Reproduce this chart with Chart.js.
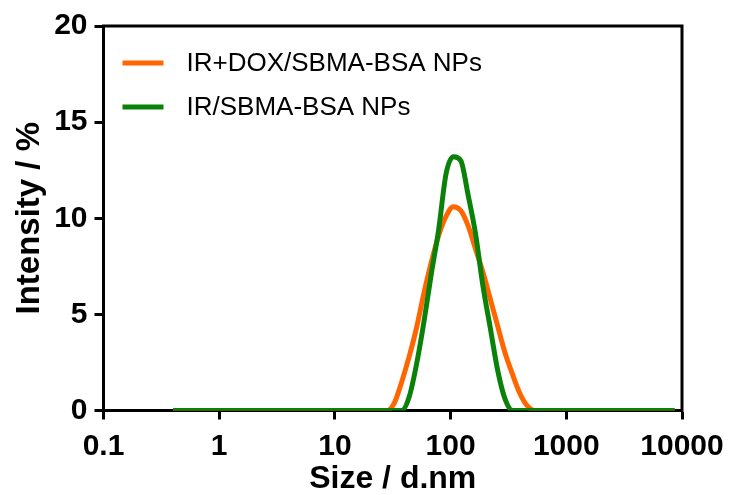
<!DOCTYPE html>
<html>
<head>
<meta charset="utf-8">
<script src="https://cdn.jsdelivr.net/npm/chart.js@4/dist/chart.umd.min.js"></script>
<style>
  body { margin: 0; background: #fff; }
  #wrap { width: 729px; height: 495px; }
</style>
</head>
<body>
<div id="wrap"><canvas id="grafico" width="729" height="495"></canvas></div>
<script>
// Size bins (d.nm) and intensity (%)
const tamanhos = [
  0.4, 0.4632, 0.5365, 0.6213, 0.7195, 0.8332, 0.9649, 1.117, 1.294, 1.499,
  1.736, 2.01, 2.328, 2.696, 3.122, 3.615, 4.187, 4.849, 5.615, 6.503,
  7.531, 8.721, 10.1, 11.7, 13.54, 15.69, 18.17, 21.04, 24.36, 28.21,
  32.67, 37.84, 43.82, 50.75, 58.77, 68.06, 78.82, 91.28, 105.7, 122.4,
  141.8, 164.2, 190.1, 220.2, 255, 295.3, 342, 396.1, 458.7, 531.2,
  615.1, 712.4, 825, 955.4, 1106, 1281, 1484, 1718, 1990, 2305,
  2669, 3091, 3580, 4145, 4801, 5560, 6439, 7456, 8635
];

const irDox = [
  0, 0, 0, 0, 0, 0, 0, 0, 0, 0,
  0, 0, 0, 0, 0, 0, 0, 0, 0, 0,
  0, 0, 0, 0, 0, 0, 0, 0, 0, 0,
  0.4, 1.5, 2.8, 4.3, 6.1, 7.7, 9.1, 10.1, 10.6, 10.4,
  9.6, 8.4, 7.2, 5.8, 4.4, 3.0, 1.9, 0.9, 0.25, 0,
  0, 0, 0, 0, 0, 0, 0, 0, 0, 0,
  0, 0, 0, 0, 0, 0, 0, 0, 0
];

const irSo = [
  0, 0, 0, 0, 0, 0, 0, 0, 0, 0,
  0, 0, 0, 0, 0, 0, 0, 0, 0, 0,
  0, 0, 0, 0, 0, 0, 0, 0, 0, 0,
  0, 0, 0.7, 2.4, 4.6, 7.1, 9.4, 12.3, 13.2, 13.0,
  11.2, 9.2, 6.5, 4.3, 2.1, 0.6, 0, 0, 0, 0,
  0, 0, 0, 0, 0, 0, 0, 0, 0, 0,
  0, 0, 0, 0, 0, 0, 0, 0, 0
];

const nomes = ["IR+DOX/SBMA-BSA NPs", "IR/SBMA-BSA NPs"];
const cores = ["#ff6600", "#0a820a"];

const xTicks = [0.1, 1, 10, 100, 1000, 10000];
const xTickLabels = ["0.1", "1", "10", "100", "1000", "10000"];
const yTicks = [0, 5, 10, 15, 20];

function pontos(valores) {
  return tamanhos.map((t, i) => ({ x: t, y: valores[i] }));
}

// legend inside the plot, top left
const legendaPlugin = {
  id: "legenda",
  afterDraw(chart) {
    const ctx = chart.ctx;
    const a = chart.chartArea;
    ctx.save();
    ctx.font = "26px 'Liberation Sans', Arial, sans-serif";
    ctx.textBaseline = "middle";
    nomes.forEach((nome, i) => {
      const y = a.top + 37 + i * 44;
      ctx.strokeStyle = cores[i];
      ctx.lineWidth = 5;
      ctx.beginPath();
      ctx.moveTo(a.left + 19, y);
      ctx.lineTo(a.left + 60, y);
      ctx.stroke();
      ctx.fillStyle = "#000";
      ctx.fillText(nome, a.left + 83, y + 1);
    });
    ctx.restore();
  }
};

// top and right frame lines
const moldura = {
  id: "moldura",
  beforeDatasetsDraw(chart) {
    const ctx = chart.ctx;
    const a = chart.chartArea;
    ctx.save();
    ctx.strokeStyle = "#000";
    ctx.lineWidth = 3;
    ctx.beginPath();
    ctx.moveTo(a.left - 1.5, a.top);
    ctx.lineTo(a.right, a.top);
    ctx.lineTo(a.right, a.bottom + 1.5);
    ctx.stroke();
    ctx.restore();
  }
};

const familia = "'Liberation Sans', Arial, sans-serif";

new Chart(document.getElementById("grafico"), {
  type: "line",
  data: {
    datasets: [
      {
        label: nomes[0],
        data: pontos(irDox),
        borderColor: cores[0],
        borderWidth: 5,
        pointRadius: 0,
        cubicInterpolationMode: "monotone",
        order: 1
      },
      {
        label: nomes[1],
        data: pontos(irSo),
        borderColor: cores[1],
        borderWidth: 5,
        pointRadius: 0,
        cubicInterpolationMode: "monotone",
        order: 0
      }
    ]
  },
  options: {
    responsive: false,
    animation: false,
    events: [],
    layout: { padding: { top: 26, right: 47, left: 0, bottom: 0 } },
    plugins: {
      legend: { display: false },
      tooltip: { enabled: false }
    },
    scales: {
      x: {
        type: "logarithmic",
        min: 0.1,
        max: 10000,
        afterBuildTicks: scale => {
          scale.ticks = xTicks.map(v => ({ value: v }));
        },
        afterFit: scale => { scale.height = 84.5; },
        ticks: {
          color: "#000",
          font: { family: familia, size: 30, weight: "bold", lineHeight: 1.5 },
          padding: 5,
          maxRotation: 0,
          autoSkip: false,
          callback: (v, i) => xTickLabels[i]
        },
        grid: {
          drawOnChartArea: false,
          drawTicks: true,
          tickLength: 9,
          tickWidth: 3,
          tickColor: "#000"
        },
        border: { display: true, color: "#000", width: 3 },
        title: {
          display: true,
          text: "Size / d.nm",
          color: "#000",
          font: { family: familia, size: 32, weight: "bold", lineHeight: 1 },
          padding: { top: 0, bottom: 0 }
        }
      },
      y: {
        min: 0,
        max: 20,
        afterBuildTicks: scale => {
          scale.ticks = yTicks.map(v => ({ value: v }));
        },
        afterFit: scale => { scale.width = 103.5; },
        ticks: {
          color: "#000",
          font: { family: familia, size: 30, weight: "bold", lineHeight: 1.2 },
          padding: 7
        },
        grid: {
          drawOnChartArea: false,
          drawTicks: true,
          tickLength: 9,
          tickWidth: 3,
          tickColor: "#000"
        },
        border: { display: true, color: "#000", width: 3 },
        title: {
          display: true,
          text: "Intensity / %",
          color: "#000",
          font: { family: familia, size: 33, weight: "bold", lineHeight: 1.2 },
          padding: { top: 10, bottom: 0 }
        }
      }
    }
  },
  plugins: [legendaPlugin, moldura]
});
</script>
</body>
</html>
